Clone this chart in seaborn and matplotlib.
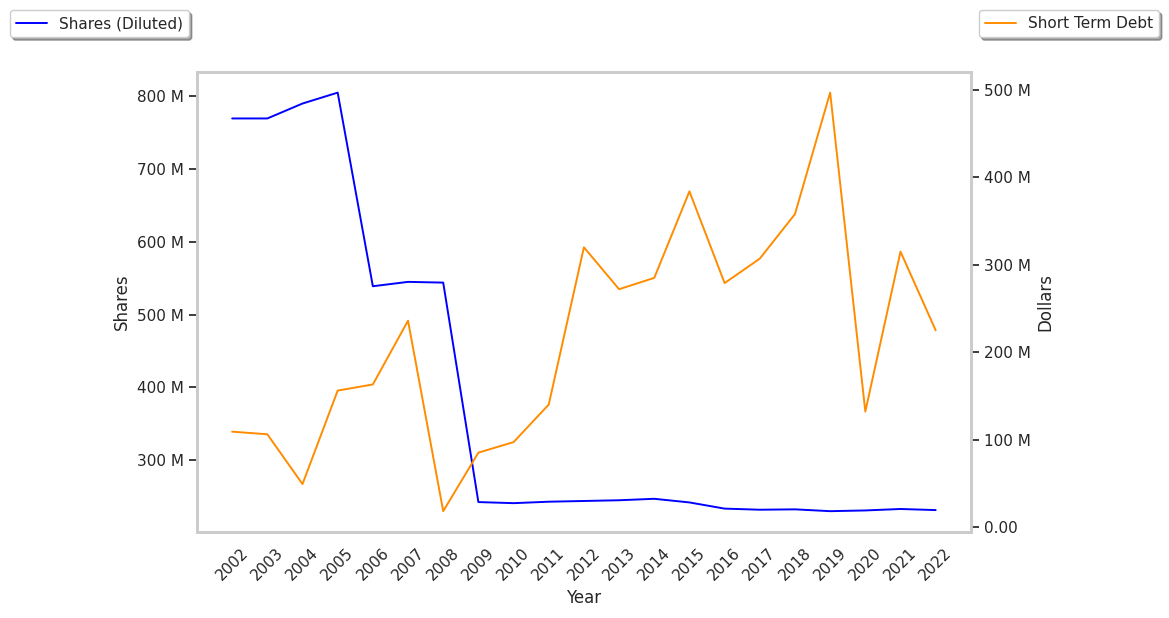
import matplotlib
matplotlib.use("Agg")
import matplotlib.pyplot as plt
import matplotlib.ticker as mticker
import seaborn as sns
import pandas as pd

years = list(range(2002, 2023))
shares_diluted = [769.5, 769.5, 790, 805, 539, 545, 544, 242.5, 241, 243, 244,
                  245, 247, 242, 233.5, 232, 232.5, 230, 231, 233, 231.5]
short_term_debt = [109, 106, 49, 156, 163, 236, 18, 85, 97, 140, 320,
                   272, 285, 384, 279, 307, 358, 497, 132, 315, 225]

df = pd.DataFrame({
    "Year": years,
    "Shares": [v * 1e6 for v in shares_diluted],
    "Dollars": [v * 1e6 for v in short_term_debt],
})

sns.set_theme(style="whitegrid", context="notebook")
plt.rcParams["font.family"] = ["DejaVu Sans"]

fig = plt.figure(figsize=(11.69, 6.18), dpi=100)
ax = fig.add_axes([0.1685, 0.139, 0.662, 0.745])
ax2 = ax.twinx()

sns.lineplot(data=df, x="Year", y="Shares", ax=ax, color="blue", linewidth=1.4, label="Shares (Diluted)")
sns.lineplot(data=df, x="Year", y="Dollars", ax=ax2, color="darkorange", linewidth=1.4, label="Short Term Debt")

def fmt(v, pos):
    if v == 0:
        return "0.00"
    return f"{v/1e6:.0f} M"

ax.yaxis.set_major_formatter(mticker.FuncFormatter(fmt))
ax2.yaxis.set_major_formatter(mticker.FuncFormatter(fmt))
ax2.yaxis.set_major_locator(mticker.MultipleLocator(1e8))
ax.yaxis.set_major_locator(mticker.MultipleLocator(1e8))

ax.set_xticks(years)
ax.set_xticklabels([str(y) for y in years], rotation=45)
ax.grid(False)
ax2.grid(False)

ax.tick_params(axis="y", left=True, length=6, width=1.25, color=".15")
ax2.tick_params(axis="y", right=True, length=6, width=1.25, color=".15")

for a in (ax, ax2):
    for s in a.spines.values():
        s.set_color("#cccccc")
        s.set_linewidth(2)

ax.set_xlabel("Year")
ax.set_ylabel("Shares")
ax2.set_ylabel("Dollars")

ax.get_legend().remove()
ax2.get_legend().remove()
h1, l1 = ax.get_legend_handles_labels()
h2, l2 = ax2.get_legend_handles_labels()
fig.legend(h1, l1, loc="upper left", bbox_to_anchor=(0.002, 0.996), shadow=True, fancybox=True, framealpha=1)
fig.legend(h2, l2, loc="upper right", bbox_to_anchor=(0.998, 0.996), shadow=True, fancybox=True, framealpha=1)

fig.savefig("out.png", dpi=100)
